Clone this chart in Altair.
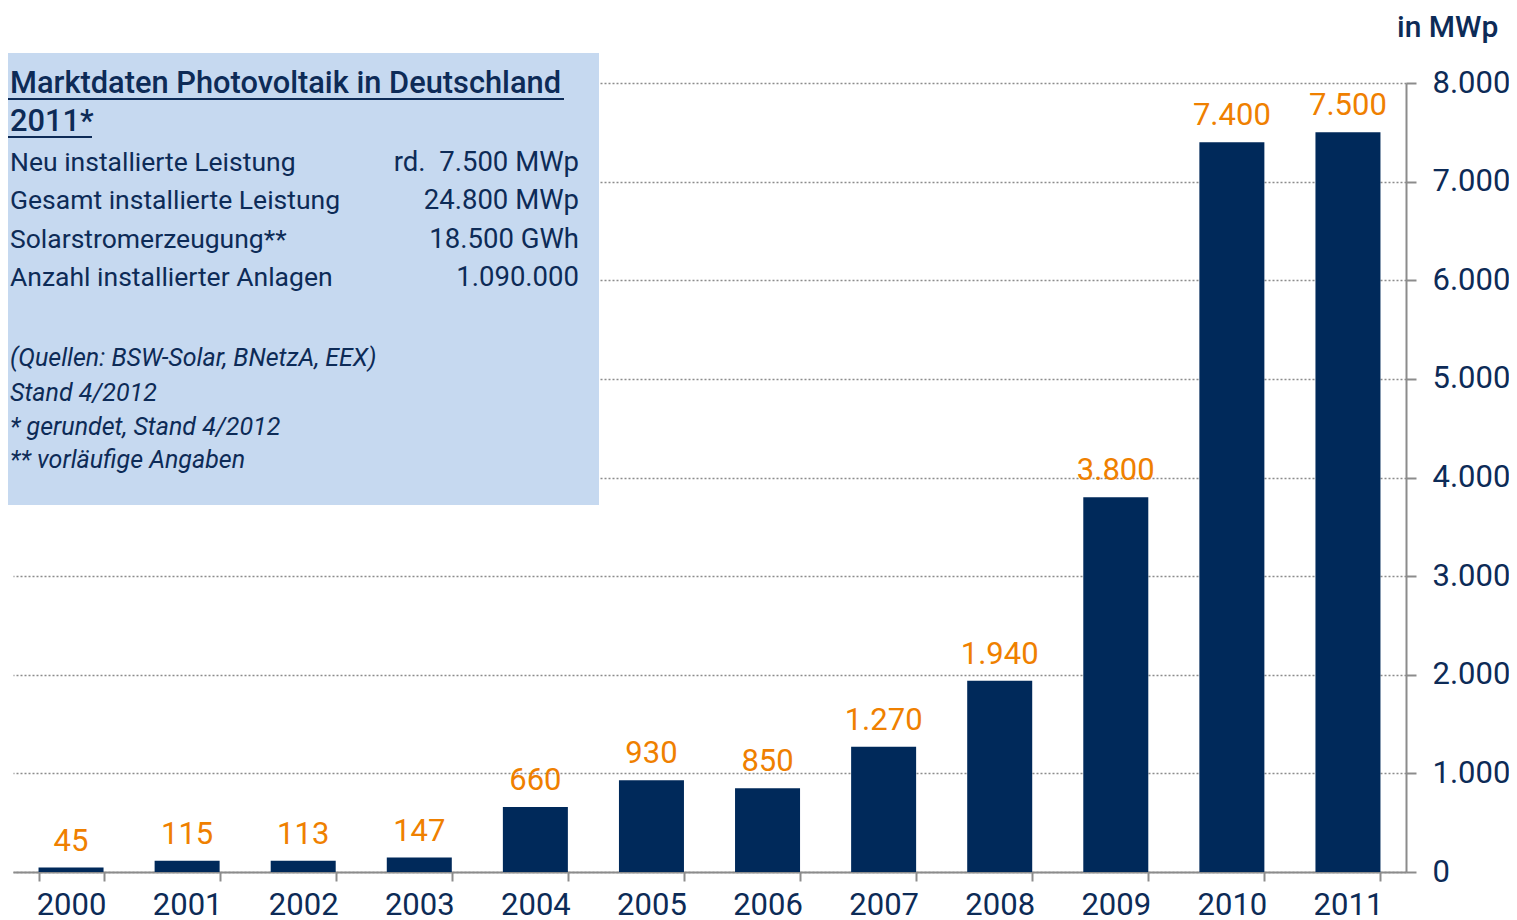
import altair as alt
import pandas as pd

years = ["2000", "2001", "2002", "2003", "2004", "2005", "2006", "2007", "2008", "2009", "2010", "2011"]
values = [45, 115, 113, 147, 660, 930, 850, 1270, 1940, 3800, 7400, 7500]
y_ticks = [0, 1000, 2000, 3000, 4000, 5000, 6000, 7000, 8000]

box_title = ["Marktdaten Photovoltaik in Deutschland", "2011*"]
row_labels = ["Neu installierte Leistung", "Gesamt installierte Leistung",
              "Solarstromerzeugung**", "Anzahl installierter Anlagen"]
row_values = ["rd.\u00a0\u00a07.500 MWp", "24.800 MWp", "18.500 GWh", "1.090.000"]
notes = ["(Quellen: BSW-Solar, BNetzA, EEX)", "Stand 4/2012",
         "* gerundet, Stand 4/2012", "** vorläufige Angaben"]
unit_label = "in MWp"

NAVY = "#00295a"
TEXT = "#0d2b57"
ORANGE = "#ef8000"
GREY = "#8c8c8c"
BOX = "#c6d9f0"
FONT = "Roboto"

df = pd.DataFrame({"year": years, "value": values})

x_enc = alt.X(
    "year:N",
    title=None,
    scale=alt.Scale(paddingInner=0.44, paddingOuter=0.22),
    axis=alt.Axis(
        labelAngle=0, labelFontSize=31, labelColor=TEXT, labelFont=FONT,
        labelPadding=9, tickBand="extent", tickSize=9, tickWidth=2,
        tickColor=GREY, domainColor=GREY, domainWidth=2, grid=False,
    ),
)
y_enc = alt.Y(
    "value:Q",
    title=None,
    scale=alt.Scale(domain=[0, 8000], nice=False),
    axis=alt.Axis(
        orient="right", values=y_ticks,
        labelExpr="replace(format(datum.value, ','), ',', '.')",
        labelFontSize=31, labelColor=TEXT, labelFont=FONT, labelPadding=16,
        tickSize=10, tickWidth=2, tickColor=GREY, domainColor=GREY, domainWidth=2,
        grid=True, gridColor=GREY, gridDash=[2, 2], gridWidth=1.5,
    ),
)

base = alt.Chart(df)
bars = base.mark_bar(color=NAVY).encode(x=x_enc, y=y_enc)
labels = base.transform_calculate(
    label="replace(format(datum.value, ','), ',', '.')"
).mark_text(
    baseline="alphabetic", dy=-17, color=ORANGE, fontSize=31, font=FONT
).encode(x=x_enc, y=y_enc, text="label:N")

one = alt.Data(values=[{}])

layers = [bars, labels]

# annotation box
layers.append(
    alt.Chart(one).mark_rect(color=BOX).encode(
        x=alt.value(-13), x2=alt.value(586), y=alt.value(-30), y2=alt.value(422)
    )
)

def txt(s, x, y, size, align="left", style="normal", weight="normal"):
    return alt.Chart(one).mark_text(
        align=align, baseline="middle", fontSize=size, font=FONT, color=TEXT,
        fontStyle=style, fontWeight=weight,
    ).encode(x=alt.value(x), y=alt.value(y), text=alt.value(s))

TX = -3
layers.append(txt(box_title[0], TX, 1, 30.8, weight=500))
layers.append(txt(box_title[1], TX, 39, 30.8, weight=500))
layers.append(
    alt.Chart(one).mark_rule(color=TEXT, strokeWidth=2).encode(
        x=alt.value(-13), x2=alt.value(551), y=alt.value(16)
    )
)
layers.append(
    alt.Chart(one).mark_rule(color=TEXT, strokeWidth=2).encode(
        x=alt.value(-13), x2=alt.value(79), y=alt.value(54)
    )
)
row_y = [80, 118, 157, 195]
for lab, val, yy in zip(row_labels, row_values, row_y):
    layers.append(txt(lab, TX, yy, 26.5))
    layers.append(txt(val, 566, yy, 27.5, align="right"))

note_y = [275, 310, 344, 377]
for n, yy in zip(notes, note_y):
    layers.append(txt(n, TX, yy, 25, style="italic"))

layers.append(txt(unit_label, 1384, -55, 30, weight=500))

chart = alt.layer(*layers).properties(
    width=1393, height=789,
    padding={"left": 5, "top": 75, "right": 103, "bottom": 50},
    autosize="none",
).configure_view(stroke=None)

chart.save("out.html", embed_options={"renderer": "svg", "actions": False})
